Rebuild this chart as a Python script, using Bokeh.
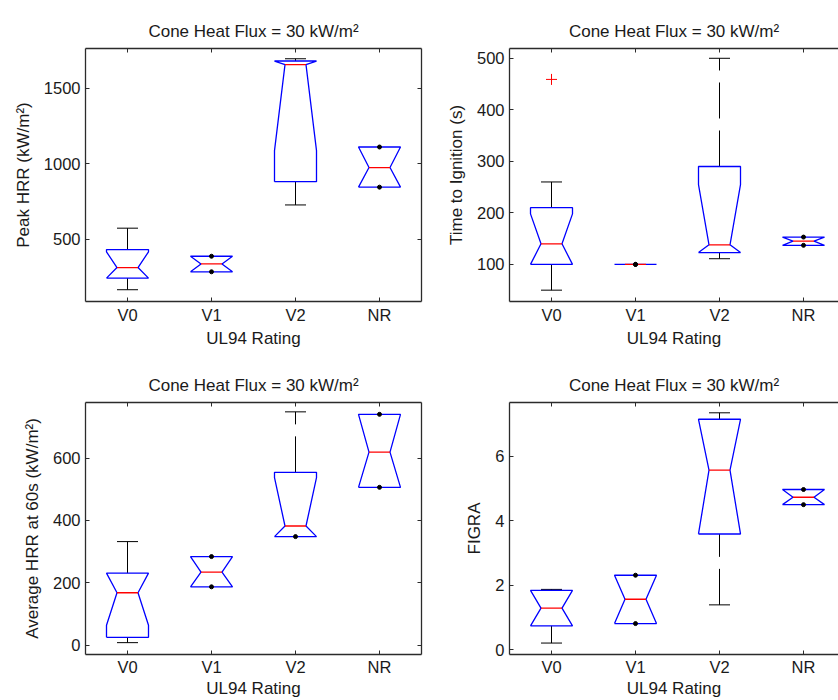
import numpy as np
from bokeh.plotting import figure
from bokeh.models import Range1d, LinearAxis, FixedTicker
from bokeh.layouts import column, row
from bokeh.embed import file_html
from bokeh.resources import INLINE

# ---------------- data ----------------
cats = ["V0", "V1", "V2", "NR"]
cat_pos = [1, 2, 3, 4]

title_text = "Cone Heat Flux = 30 kW/m²"
x_label = "UL94 Rating"

# Peak HRR
peak_label = "Peak HRR (kW/m²)"
peak_ticks = [500, 1000, 1500]
peak_wlo = [164, 283, 726, 844]
peak_q1 = [241, 283, 880, 844]
peak_nlo = [241, 283, 1086, 844]
peak_med = [311, 335, 1656, 974]
peak_nhi = [415, 386, 1680, 1110]
peak_q3 = [430, 386, 1680, 1110]
peak_whi = [572, 386, 1695, 1110]
peak_out_x = []
peak_out_y = []

# Time to ignition
tti_label = "Time to Ignition (s)"
tti_ticks = [100, 200, 300, 400, 500]
tti_wlo = [50, 100, 111, 137]
tti_q1 = [100, 100, 123, 137]
tti_nlo = [100, 100, 123, 137]
tti_med = [140, 100, 138, 145]
tti_nhi = [198, 100, 255, 153]
tti_q3 = [210, 100, 290, 153]
tti_whi = [260, 100, 500, 153]
tti_out_x = [1]
tti_out_y = [459]

# Average HRR at 60 s
avg_label = "Average HRR at 60s (kW/m²)"
avg_ticks = [0, 200, 400, 600]
avg_wlo = [8, 187, 348, 506]
avg_q1 = [25, 187, 348, 506]
avg_nlo = [64, 187, 348, 506]
avg_med = [168, 234, 382, 619]
avg_nhi = [231, 284, 537, 740]
avg_q3 = [231, 284, 554, 740]
avg_whi = [332, 284, 748, 740]
avg_out_x = []
avg_out_y = []

# FIGRA
figra_label = "FIGRA"
figra_ticks = [0, 2, 4, 6]
figra_wlo = [0.205, 0.81, 1.39, 4.50]
figra_q1 = [0.74, 0.81, 3.59, 4.50]
figra_nlo = [0.74, 0.81, 3.59, 4.50]
figra_med = [1.29, 1.565, 5.57, 4.73]
figra_nhi = [1.84, 2.31, 7.15, 4.97]
figra_q3 = [1.84, 2.31, 7.15, 4.97]
figra_whi = [1.87, 2.31, 7.35, 4.97]
figra_out_x = []
figra_out_y = []

# ---------------- style ----------------
FONT = "Liberation Sans"
TXT = "#1a1a1a"
AX = "#2b2b2b"
BOX_W = 0.25
NOTCH_W = 0.125


def style_axis(ax, ticks, show_labels, label=None, is_x=False, bottom_row=False):
    ax.ticker = FixedTicker(ticks=ticks)
    ax.axis_line_color = AX
    ax.axis_line_width = 1.3
    ax.major_tick_line_color = AX
    ax.major_tick_line_width = 1
    ax.major_tick_in = 4
    ax.major_tick_out = 0
    ax.minor_tick_line_color = None
    ax.major_label_text_font = FONT
    ax.major_label_text_color = TXT
    if show_labels:
        ax.major_label_text_font_size = "16.5px"
        ax.major_label_standoff = (3 if bottom_row else 4) if is_x else 5
    else:
        ax.major_label_text_font_size = "1px"
        ax.major_label_text_color = None
        ax.major_label_standoff = 0
    if label is not None:
        ax.axis_label = label
        ax.axis_label_text_font = FONT
        ax.axis_label_text_font_size = "17px"
        ax.axis_label_text_font_style = "normal"
        ax.axis_label_text_color = TXT
        ax.axis_label_standoff = (0 if bottom_row else 2) if is_x else 8


def make_panel(ylabel, yticks, y0, y1, wlo, q1, nlo, med, nhi, q3, whi, ox, oy,
               left_col, top_row):
    width = 432 if left_col else 406
    height = 350
    x_end = 4.5 if left_col else 0.5 + 4.0 * (329.0 / 336.0)
    p = figure(width=width, height=height, output_backend="svg", toolbar_location=None,
               x_range=Range1d(0.5, x_end), y_range=Range1d(y0, y1),
               min_border_left=(85 if left_col else 77),
               min_border_right=(11 if left_col else 0),
               min_border_top=(48 if top_row else 52),
               min_border_bottom=(47 if top_row else 44))
    p.outline_line_color = None
    p.xgrid.visible = False
    p.ygrid.visible = False
    p.background_fill_color = "white"
    p.border_fill_color = "white"

    p.title.text = title_text
    p.title.align = "center"
    p.title.text_font = FONT
    p.title.text_font_size = "17px"
    p.title.text_font_style = "normal"
    p.title.text_color = TXT
    p.title.standoff = 15

    xb = p.xaxis[0]
    style_axis(xb, cat_pos, True, x_label, is_x=True, bottom_row=not top_row)
    xb.major_label_overrides = {c: n for c, n in zip(cat_pos, cats)}
    yl = p.yaxis[0]
    style_axis(yl, yticks, True, ylabel)

    xa = LinearAxis()
    style_axis(xa, cat_pos, False)
    p.add_layout(xa, "above")
    if left_col:
        yr = LinearAxis()
        style_axis(yr, yticks, False)
        p.add_layout(yr, "right")

    x = np.array(cat_pos, dtype=float)
    wlo = np.array(wlo, float); q1 = np.array(q1, float); nlo = np.array(nlo, float)
    med = np.array(med, float); nhi = np.array(nhi, float); q3 = np.array(q3, float)
    whi = np.array(whi, float)

    # whiskers (dashed, drawn from the lower value upward)
    up = whi > q3
    lo = wlo < q1
    p.segment(x0=x[up], y0=q3[up], x1=x[up], y1=whi[up], line_color="black",
              line_width=1, line_dash="36 12")
    p.segment(x0=x[lo], y0=wlo[lo], x1=x[lo], y1=q1[lo], line_color="black",
              line_width=1, line_dash="36 12")
    # caps
    p.segment(x0=x[up] - NOTCH_W, y0=whi[up], x1=x[up] + NOTCH_W, y1=whi[up],
              line_color="black", line_width=1)
    p.segment(x0=x[lo] - NOTCH_W, y0=wlo[lo], x1=x[lo] + NOTCH_W, y1=wlo[lo],
              line_color="black", line_width=1)

    # notched boxes
    xs, ys = [], []
    for i in range(len(x)):
        xc = x[i]
        xs.append([xc - BOX_W, xc - BOX_W, xc - NOTCH_W, xc - BOX_W, xc - BOX_W,
                   xc + BOX_W, xc + BOX_W, xc + NOTCH_W, xc + BOX_W, xc + BOX_W, xc - BOX_W])
        ys.append([q1[i], nlo[i], med[i], nhi[i], q3[i], q3[i], nhi[i], med[i],
                   nlo[i], q1[i], q1[i]])
    p.multi_line(xs=xs, ys=ys, line_color="#0000ff", line_width=1.3)

    # medians
    p.segment(x0=x - NOTCH_W, y0=med, x1=x + NOTCH_W, y1=med, line_color="#ff0000",
              line_width=1.3)

    # zero-length whiskers shown as dots
    p.scatter(x=x[~up], y=whi[~up], size=4, color="black")
    p.scatter(x=x[~lo], y=wlo[~lo], size=4, color="black")

    # outliers
    if len(ox):
        p.scatter(x=ox, y=oy, marker="cross", size=11, line_color="#ff0000", line_width=1)
    return p


p1 = make_panel(peak_label, peak_ticks, 86, 1763, peak_wlo, peak_q1, peak_nlo, peak_med,
                peak_nhi, peak_q3, peak_whi, peak_out_x, peak_out_y, True, True)
p2 = make_panel(tti_label, tti_ticks, 28, 519, tti_wlo, tti_q1, tti_nlo, tti_med,
                tti_nhi, tti_q3, tti_whi, tti_out_x, tti_out_y, False, True)
p3 = make_panel(avg_label, avg_ticks, -30, 778, avg_wlo, avg_q1, avg_nlo, avg_med,
                avg_nhi, avg_q3, avg_whi, avg_out_x, avg_out_y, True, False)
p4 = make_panel(figra_label, figra_ticks, -0.15, 7.67, figra_wlo, figra_q1, figra_nlo,
                figra_med, figra_nhi, figra_q3, figra_whi, figra_out_x, figra_out_y,
                False, False)

layout = column(row(p1, p2), row(p3, p4))

open("out.html", "w").write(file_html(layout, INLINE))
